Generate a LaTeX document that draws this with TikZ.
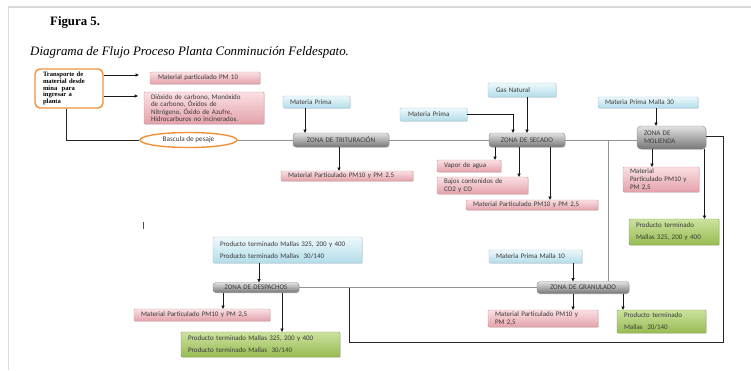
\documentclass[tikz,border=0pt]{standalone}
\usepackage{fontspec}
\setmainfont{Liberation Serif}
\newfontfamily\boxfont{Carlito}
\usetikzlibrary{arrows.meta,shadows,shapes.geometric,calc}
\definecolor{pinkT}{HTML}{FAE0E3}
\definecolor{pinkB}{HTML}{E3A2AA}
\definecolor{pinkD}{HTML}{D6929B}
\definecolor{blueT}{HTML}{EDF8FB}
\definecolor{blueB}{HTML}{B3DDEA}
\definecolor{blueD}{HTML}{9FCBDA}
\definecolor{greenT}{HTML}{CBE29E}
\definecolor{greenB}{HTML}{98BB52}
\definecolor{greenD}{HTML}{84A646}
\definecolor{grayT}{HTML}{E2E2E2}
\definecolor{grayB}{HTML}{777777}
\definecolor{grayD}{HTML}{8A8A8A}
\definecolor{orangeD}{HTML}{F0913C}
\definecolor{txt}{HTML}{3A3A3A}
\definecolor{pagebd}{HTML}{DADADA}
\begin{document}
\begin{tikzpicture}[x=1pt,y=-1pt,
  base/.style={inner ysep=0pt, font=\boxfont\fontsize{7}{8}\selectfont, text=txt, align=left,
    drop shadow={shadow xshift=0.8pt,shadow yshift=-0.8pt,opacity=0.25}},
  pinkbox/.style={base, draw=pinkD, line width=0.4pt, top color=pinkT, bottom color=pinkB, rounded corners=1pt},
  bluebox/.style={base, draw=blueD, line width=0.4pt, top color=blueT, bottom color=blueB, rounded corners=1pt},
  greenbox/.style={base, draw=greenD, line width=0.4pt, top color=greenT, bottom color=greenB, rounded corners=1pt},
  zonebox/.style={base, font=\boxfont\fontsize{7}{7.8}\selectfont, draw=grayD, line width=0.4pt, top color=grayT, bottom color=grayB, rounded corners=3pt},
  gline/.style={draw=gray!85, line width=1pt},
  bline/.style={draw=black!85, line width=0.7pt},
  arr/.style={draw=black!90, line width=0.7pt, -{Triangle[length=3.2pt,width=3.2pt]}}
]
\useasboundingbox (0,0) rectangle (751,370);
\fill[white] (0,0) rectangle (751,370);
\draw[pagebd, line width=1.5pt] (8.5,370) -- (8.5,7) -- (751,7);

% titles
\node[anchor=base west, inner sep=0pt, font=\bfseries\fontsize{12.8}{14}\selectfont] (fig) at (50,25) {Figura 5.};
\node[anchor=base west, inner sep=0pt, font=\itshape\fontsize{12.9}{14}\selectfont] (ttl) at (30,55) {Diagrama de Flujo Proceso Planta Conminución Feldespato.};

% transport
\node[draw=orangeD, line width=1.4pt, fill=white, rounded corners=5pt, minimum height=39pt, text width=52pt, inner xsep=8pt, inner ysep=0pt,
  font=\bfseries\fontsize{6.6}{6.6}\selectfont, align=left] (tr) at (69,88.5)
  {Transporte de\\material desde\\mina\ \ para\\ingresar a\\planta};
\node[pinkbox, minimum height=12pt, text width=94pt, inner xsep=8pt] (mp10) at (205,78) {Material particulado PM 10};
\node[pinkbox, minimum height=32pt, text width=106pt, inner xsep=7pt, font=\boxfont\fontsize{7}{7.3}\selectfont] (dio) at (204,108)
  {Dióxido de carbono, Monóxido\\de carbono, Óxidos de\\Nitrógeno, Óxido de Azufre,\\Hidrocarburos no incinerados.};
\node[ellipse, draw=orangeD, line width=1.4pt, fill=white, minimum width=97pt, minimum height=15pt, inner sep=0pt,
  font=\boxfont\fontsize{7.2}{8}\selectfont, text=txt] (bas) at (188.5,140) {Bascula de pesaje};

% trituracion
\node[zonebox, minimum height=14pt, text width=86pt, inner xsep=5pt, align=center] (trit) at (341,140) {ZONA DE TRITURACIÓN};
\node[bluebox, minimum height=12pt, text width=53pt, inner xsep=7pt] (mp1) at (316.5,102) {Materia Prima};
\node[pinkbox, minimum height=10pt, text width=118pt, inner xsep=7pt] (mpt) at (347,176) {Material Particulado PM10 y PM 2.5};

% secado
\node[zonebox, minimum height=14pt, text width=66pt, inner xsep=5pt, align=center] (sec) at (527,140) {ZONA DE SECADO};
\node[bluebox, minimum height=13pt, text width=51pt, inner xsep=8pt] (mp2) at (433.5,114.5) {Materia Prima};
\node[bluebox, minimum height=14pt, text width=52pt, inner xsep=8pt] (gas) at (522,90) {Gas Natural};
\node[pinkbox, minimum height=12pt, text width=50pt, inner xsep=7pt] (vap) at (469,166) {Vapor de agua};
\node[pinkbox, minimum height=17pt, text width=77pt, inner xsep=7pt] (baj) at (482.5,185.5) {Bajos contenidos de\\CO2 y CO};
\node[pinkbox, minimum height=10pt, text width=118pt, inner xsep=7pt] (mps) at (532,205) {Material Particulado PM10 y PM 2,5};

% molienda
\node[zonebox, minimum height=23pt, text width=55pt, inner xsep=7pt, rounded corners=4pt] (mol) at (671.5,137.5) {ZONA DE\\MOLIENDA};
\node[bluebox, minimum height=11pt, text width=86pt, inner xsep=7pt] (mp30) at (648,102.5) {Materia Prima Malla 30};
\node[pinkbox, minimum height=25pt, text width=66pt, inner xsep=5pt] (mpm) at (661,179.5) {\hspace*{2pt}Material\\\hspace*{2pt}Particulado PM10 y\\\hspace*{2pt}PM 2,5};
\node[greenbox, minimum height=26pt, text width=76pt, inner xsep=7pt, font=\boxfont\fontsize{7}{12}\selectfont] (ptm) at (674,232) {Producto terminado\\Mallas 325, 200 y 400};

% despachos
\node[bluebox, minimum height=26pt, text width=135pt, inner xsep=7pt, font=\boxfont\fontsize{7}{12}\selectfont] (ptb) at (287.5,250)
  {Producto terminado Mallas 325, 200 y 400\\Producto terminado Mallas\ \ 30/140};
\node[zonebox, minimum height=10pt, text width=76pt, inner xsep=5pt, align=center] (desp) at (256,287.5) {ZONA DE DESPACHOS};
\node[pinkbox, minimum height=12pt, text width=122pt, inner xsep=7pt] (mpd) at (202,315) {Material Particulado PM10 y PM 2,5};
\node[greenbox, minimum height=25pt, text width=145pt, inner xsep=7pt, font=\boxfont\fontsize{7}{12}\selectfont] (ptd) at (260.5,344.5)
  {Producto terminado Mallas 325, 200 y 400\\Producto terminado Mallas\ \ 30/140};

% granulado
\node[zonebox, minimum height=12pt, text width=82pt, inner xsep=5pt, align=center] (gran) at (583,287.5) {ZONA DE GRANULADO};
\node[bluebox, minimum height=13pt, text width=79pt, inner xsep=7pt] (mpg) at (535.5,256.5) {Materia Prima Malla 10};
\node[pinkbox, minimum height=17pt, text width=96pt, inner xsep=7pt] (mpg2) at (543,318.5) {Material Particulado PM10 y\\PM 2,5};
\node[greenbox, minimum height=23pt, text width=75pt, inner xsep=7pt, font=\boxfont\fontsize{7}{12}\selectfont] (ptg) at (661.5,321.5) {Producto terminado\\Mallas\ \ 30/140};

% coordinates
\coordinate (j1) at (608,140);
\coordinate (c1) at (723,342);
\coordinate (c2) at (349,342);

% connectors: transport
\draw[arr] ([yshift=13.5pt]tr.east) -- ([xshift=-11pt,yshift=3pt]mp10.west);
\draw[arr] ([yshift=-7.5pt]tr.east) -- ([xshift=-6pt,yshift=12pt]dio.west);
\draw[bline] ([xshift=-3pt]tr.south) |- (bas.west);

% main line
\draw[gline] (bas.east) -- (trit.west);
\draw[gline] (trit.east) -- (sec.west);
\draw[gline] (sec.east) -- (sec.east -| mol.west);
\draw[gline] (j1) -- (j1 |- gran.north);
\draw[gline] (desp.east) -- (gran.west);

% trituracion
\draw[arr] ([xshift=-11.5pt]mp1.south) -- ([xshift=-11.5pt]mp1.south |- trit.north);
\draw[arr] ([xshift=-2pt]trit.south) -- ([xshift=-2pt]trit.south |- mpt.north);

% secado
\draw[arr] (mp2.east) -| ([xshift=-14pt]sec.north);
\draw[arr] (gas.south -| sec.north) -- (sec.north);
\draw[arr] ([xshift=-32pt]sec.south) -- ([xshift=-32pt]sec.south |- vap.north);
\draw[arr] ([xshift=-8pt]sec.south) -- ([xshift=-8pt]sec.south |- baj.north);
\draw[arr] ([xshift=23pt]sec.south) -- ([xshift=23pt]sec.south |- mps.north);

% molienda
\draw[arr] ([xshift=-15.5pt]mol.north |- mp30.south) -- ([xshift=-15.5pt]mol.north);
\draw[arr] ([xshift=-19.5pt]mol.south) -- ([xshift=-19.5pt]mol.south |- mpm.north);
\draw[arr] ([xshift=33pt]mol.south) -- ([xshift=33pt]mol.south |- ptm.north);
\draw[bline] ([yshift=1.5pt]mol.east) -| (c1) -- (c2) -- (c2 |- desp.east);

% despachos
\draw[arr] ([xshift=3pt]desp.north |- ptb.south) -- ([xshift=3pt]desp.north);
\draw[arr] ([xshift=-33pt]desp.south) -- ([xshift=-33pt]desp.south |- mpd.north);
\draw[arr] ([xshift=26pt]desp.south) -- ([xshift=26pt]desp.south |- ptd.north);

% granulado
\draw[arr] ([xshift=-10pt]gran.north |- mpg.south) -- ([xshift=-10pt]gran.north);
\draw[arr] ([xshift=-10pt]gran.south) -- ([xshift=-10pt]gran.south |- mpg2.north);
\draw[arr] ([xshift=40pt]gran.south) -- ([xshift=40pt]gran.south |- ptg.north);

% text cursor mark
\draw[black!70, line width=0.5pt] (143.5,222) -- (143.5,229);
\end{tikzpicture}
\end{document}
